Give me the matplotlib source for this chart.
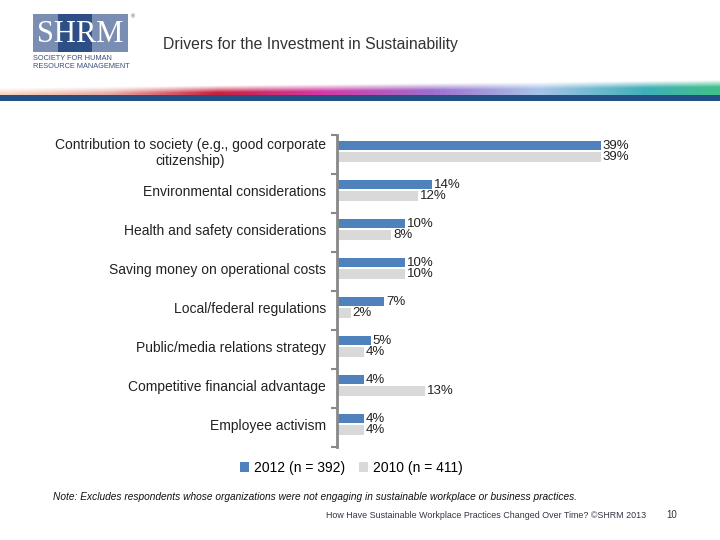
import numpy as np
import matplotlib
matplotlib.use("Agg")
import matplotlib.pyplot as plt
from matplotlib.patches import Rectangle
from matplotlib.colors import LinearSegmentedColormap

plt.rcParams['font.family'] = ['Liberation Sans', 'DejaVu Sans']

# Data
categories = [
    "Contribution to society (e.g., good corporate\ncitizenship)",
    "Environmental considerations",
    "Health and safety considerations",
    "Saving money on operational costs",
    "Local/federal regulations",
    "Public/media relations strategy",
    "Competitive financial advantage",
    "Employee activism",
]
values_2012 = [39, 14, 10, 10, 7, 5, 4, 4]
values_2010 = [39, 12, 8, 10, 2, 4, 13, 4]
series_names = ["2012 (n = 392)", "2010 (n = 411)"]

BLUE = "#4f81bd"
GRAY = "#d9d9d9"
W, H = 720, 540


def fx(px):
    return px / W


def fy(py):
    return 1 - py / H


fig = plt.figure(figsize=(7.2, 5.4), dpi=100)

# Header: logo
fig.patches.append(Rectangle((fx(33), fy(52)), fx(95), 38 / H, transform=fig.transFigure,
                             facecolor="#7a8db3", edgecolor="none"))
fig.patches.append(Rectangle((fx(58), fy(52)), fx(34), 38 / H, transform=fig.transFigure,
                             facecolor="#2d4f86", edgecolor="none"))
fig.text(fx(80), fy(34), "SHRM", color="white", fontsize=22, family="Liberation Serif",
         ha="center", va="center")
fig.text(fx(131), fy(17), "®", color="#555555", fontsize=4, ha="left", va="center")
fig.text(fx(33), fy(59), "SOCIETY FOR HUMAN", color="#3a4f7a", fontsize=5.3, ha="left", va="center")
fig.text(fx(33), fy(67), "RESOURCE MANAGEMENT", color="#3a4f7a", fontsize=5.3, ha="left", va="center")

fig.text(fx(163), fy(44), "Drivers for the Investment in Sustainability", color="#333333",
         fontsize=11.3, ha="left", va="center")

# Header: colour swoosh
cmap = LinearSegmentedColormap.from_list("swoosh", [
    (0.0, "#f6d2b8"), (0.15, "#e8a8a0"), (0.3, "#c8203c"), (0.45, "#d43aa8"),
    (0.6, "#9c6fcc"), (0.75, "#a8c4ea"), (0.9, "#3fb0b8"), (1.0, "#42c08a")])
gx = np.linspace(0, 1, 400)
gy = np.linspace(0, 1, 30)
rgba = cmap(np.tile(gx, (30, 1)))
alpha = np.clip((gy[:, None] - 0.55 + 0.45 * gx[None, :]) * 2.5, 0, 1)
rgba[..., 3] = alpha
bax = fig.add_axes([0, fy(96), 1, 18 / H])
bax.imshow(rgba, aspect="auto", interpolation="bilinear")
bax.axis("off")
fig.patches.append(Rectangle((0, fy(101)), 1, 6 / H, transform=fig.transFigure,
                             facecolor="#234f85", edgecolor="none"))

# Chart
ax = fig.add_axes([fx(337), fy(447), fx(338), 312 / H])
n = len(categories)
y = np.arange(n)
bh = 0.245
gap = 0.05
off = 0.08
b1 = ax.barh(y - off - gap / 2 - bh / 2, values_2012, height=bh, color=BLUE, label=series_names[0])
b2 = ax.barh(y - off + gap / 2 + bh / 2, values_2010, height=bh, color=GRAY, label=series_names[1])
for bars, vals in ((b1, values_2012), (b2, values_2010)):
    for rect, v in zip(bars, vals):
        ax.text(v + 0.3, rect.get_y() + rect.get_height() / 2, f"{v}%", fontsize=9.5,
                color="#222222", va="center", ha="left")

ax.set_xlim(0, 50)
ax.set_ylim(n - 0.5, -0.5)
ax.set_yticks(np.arange(n + 1) - 0.5, minor=False)
ax.set_yticklabels([])
ax.tick_params(axis="y", length=4, width=1.5, color="#888888", direction="out")
ax.set_xticks([])
for lab, yy in zip(categories, y):
    ax.text(-0.033, yy - 0.03, lab, transform=ax.get_yaxis_transform(), ha="right", va="center",
            fontsize=10, color="#222222", multialignment="center", clip_on=False)
for s in ("top", "right", "bottom"):
    ax.spines[s].set_visible(False)
ax.spines["left"].set_color("#888888")
ax.spines["left"].set_linewidth(2)

fig.legend(handles=[b1, b2], labels=series_names, loc="center", bbox_to_anchor=(fx(351), fy(468)),
           ncol=2, frameon=False, fontsize=10, handlelength=0.7, handleheight=0.7,
           handletextpad=0.3, columnspacing=1.0)

fig.text(fx(53), fy(497), "Note: Excludes respondents whose organizations were not engaging in "
         "sustainable workplace or business practices.", fontsize=7.25, style="italic",
         color="#111111", ha="left", va="center")
fig.text(fx(646), fy(515), "How Have Sustainable Workplace Practices Changed Over Time? ©SHRM 2013",
         fontsize=6.4, color="#333344", ha="right", va="center")
fig.text(fx(672), fy(515), "10", fontsize=7, color="#333344", ha="center", va="center")

fig.savefig("out.png", dpi=100)
